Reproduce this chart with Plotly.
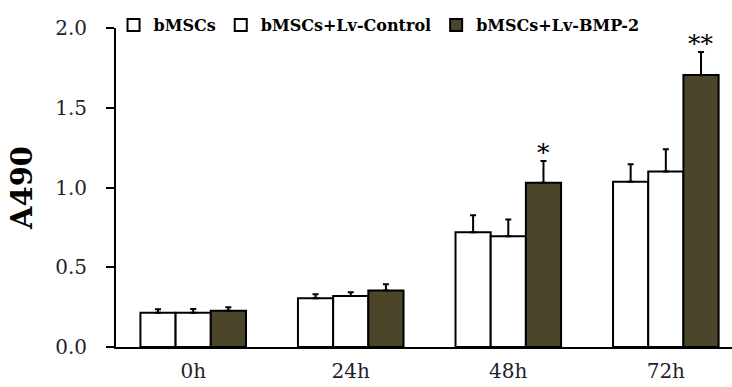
import plotly.graph_objects as go

categories = ["0h", "24h", "48h", "72h"]
series_names = ["bMSCs", "bMSCs+Lv-Control", "bMSCs+Lv-BMP-2"]
bmscs = [0.215, 0.305, 0.719, 1.036]
bmscs_err = [0.021, 0.025, 0.107, 0.109]
control = [0.215, 0.320, 0.694, 1.100]
control_err = [0.023, 0.023, 0.106, 0.140]
bmp2 = [0.228, 0.355, 1.030, 1.705]
bmp2_err = [0.021, 0.038, 0.136, 0.145]
stars = ["", "", "*", "**"]
y_ticks = [0.0, 0.5, 1.0, 1.5, 2.0]

fills = ["white", "white", "#4b4529"]
values = [bmscs, control, bmp2]
errors = [bmscs_err, control_err, bmp2_err]

FONT = "DejaVu Serif"

fig = go.Figure()
for name, vals, errs, fill in zip(series_names, values, errors, fills):
    fig.add_trace(go.Bar(
        x=categories, y=vals, name=name,
        marker=dict(color=fill, line=dict(color="black", width=2)),
        error_y=dict(type="data", symmetric=False, array=errs,
                     arrayminus=[0] * len(errs), color="black",
                     thickness=2, width=3),
    ))

bar_px = 35
for cat, v, e, s in zip(categories, bmp2, bmp2_err, stars):
    if s:
        fig.add_annotation(x=cat, y=v + e, text=s, showarrow=False,
                           xshift=bar_px, yshift=-8, yanchor="bottom",
                           font=dict(family=FONT, size=25, color="black"))

fig.update_layout(
    width=732, height=387,
    margin=dict(l=116, r=0, t=28, b=40),
    paper_bgcolor="white", plot_bgcolor="white",
    barmode="group", bargap=0.33, bargroupgap=0,
    showlegend=True,
    legend=dict(orientation="h", x=-0.004, xanchor="left", y=1.062,
                yanchor="top", font=dict(family=FONT, size=16, color="black",
                                         weight="bold"),
                bgcolor="rgba(0,0,0,0)", traceorder="normal"),
    font=dict(family=FONT, color="#1f1f2a"),
)
fig.update_xaxes(
    range=[-0.49, 3.42], showline=True, linecolor="black", linewidth=2,
    ticks="", showgrid=False, zeroline=False,
    tickfont=dict(family=FONT, size=20, color="#1f1f2a"),
    ticklabelstandoff=5,
)
fig.update_yaxes(
    range=[0, 2.0], tickvals=y_ticks, tickformat=".1f",
    showline=True, linecolor="black", linewidth=2,
    ticks="outside", ticklen=8, tickwidth=2, tickcolor="black",
    showgrid=False, zeroline=False,
    tickfont=dict(family=FONT, size=20, color="#1f1f2a"),
    ticklabelstandoff=15,
    title=dict(text="A490", standoff=14,
               font=dict(family=FONT, size=29, color="black", weight="bold")),
)

fig.write_html("out.html")
